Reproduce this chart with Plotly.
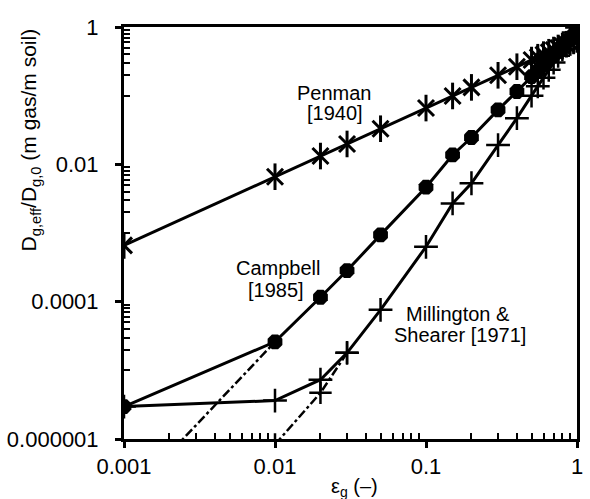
import plotly.graph_objects as go

# ---- data ----
eps = [0.001, 0.01, 0.02, 0.03, 0.05, 0.1, 0.15, 0.2, 0.3, 0.4,
       0.5, 0.55, 0.6, 0.65, 0.7, 0.75, 0.8, 0.85, 0.9, 0.95, 1.0]

penman = [0.00066, 0.0066, 0.0132, 0.0198, 0.033, 0.066, 0.099, 0.132, 0.198, 0.264,
          0.33, 0.363, 0.396, 0.429, 0.462, 0.495, 0.528, 0.561, 0.594, 0.627, 0.66]

campbell = [2.97e-6, 2.6e-5, 1.16e-4, 2.84e-4, 9.4e-4, 4.64e-3, 0.0137, 0.0246, 0.062, 0.115,
            0.19, 0.23, 0.28, 0.335, 0.39, 0.46, 0.53, 0.60, 0.69, 0.77, 0.86]

millington = [2.97e-6, 3.63e-6, 7.3e-6, 1.8e-5, 7.6e-5, 6.3e-4, 2.7e-3, 5.3e-3, 0.0191, 0.047,
              0.10, 0.137, 0.183, 0.238, 0.303, 0.381, 0.472, 0.576, 0.696, 0.832, 0.985]

campbell_dash_x = [0.001, 0.01]
campbell_dash_y = [1.24e-7, 2.6e-5]

millington_dash_x = [0.01, 0.02, 0.03]
millington_dash_y = [8.3e-7, 4.7e-6, 1.8e-5]

x_tickvals = [0.001, 0.01, 0.1, 1]
x_ticktext = ["0.001", "0.01", "0.1", "1"]
y_tickvals = [1e-6, 1e-4, 1e-2, 1]
y_ticktext = ["0.000001", "0.0001", "0.01", "1"]

x_minor = [d * k for d in [0.001, 0.01, 0.1] for k in range(2, 10)]
y_minor = [d * k for d in [1e-6, 1e-4, 1e-2] for k in range(10, 100, 10)]

FONT = "Liberation Sans, Arial, Helvetica, sans-serif"
BLACK = "#000000"

fig = go.Figure()

# dashed extensions
fig.add_trace(go.Scatter(x=campbell_dash_x, y=campbell_dash_y, mode="lines",
                         line=dict(color=BLACK, width=2.5, dash="dashdot"),
                         showlegend=False))
fig.add_trace(go.Scatter(x=millington_dash_x, y=millington_dash_y, mode="lines+markers",
                         line=dict(color=BLACK, width=2.5, dash="dashdot"),
                         marker=dict(symbol="cross-thin-open", size=16, color=BLACK,
                                     line=dict(color=BLACK, width=2.5)),
                         showlegend=False))

# Penman (asterisk = x + vertical bar)
fig.add_trace(go.Scatter(x=eps, y=penman, mode="lines+markers",
                         line=dict(color=BLACK, width=3),
                         marker=dict(symbol="x-thin-open", size=16, color=BLACK,
                                     line=dict(color=BLACK, width=3)),
                         showlegend=False))
fig.add_trace(go.Scatter(x=eps, y=penman, mode="markers",
                         marker=dict(symbol="line-ns-open", size=19, color=BLACK,
                                     line=dict(color=BLACK, width=3)),
                         showlegend=False))

# Campbell
fig.add_trace(go.Scatter(x=eps, y=campbell, mode="lines+markers",
                         line=dict(color=BLACK, width=3),
                         marker=dict(symbol="octagon", size=16, color=BLACK),
                         showlegend=False))

# Millington & Shearer
fig.add_trace(go.Scatter(x=eps, y=millington, mode="lines+markers",
                         line=dict(color=BLACK, width=3),
                         marker=dict(symbol="cross-thin-open", size=17, color=BLACK,
                                     line=dict(color=BLACK, width=2.5)),
                         showlegend=False))

W, H = 590, 499
L, R, T, B = 123, 7, 27, 60
PW, PH = W - L - R, H - T - B


def px(xp, yp):
    return (xp - L) / PW, (H - B - yp) / PH


annotations = []
for text, (xp, yp), size in [
    ("Penman", (337, 93), 20), ("[1940]", (337, 113), 20),
    ("Campbell", (279, 268), 20), ("[1985]", (277, 290), 20),
    ("Millington &", (462, 314), 20), ("Shearer [1971]", (464, 335), 20),
]:
    ax, ay = px(xp, yp)
    annotations.append(dict(x=ax, y=ay, xref="paper", yref="paper", text=text,
                            showarrow=False, xanchor="center", yanchor="middle",
                            font=dict(family=FONT, size=size, color=BLACK)))

ax, ay = px(28, 140)
annotations.append(dict(x=ax, y=ay, xref="paper", yref="paper",
                        text="D<sub>g,eff</sub>/D<sub>g,0</sub> (m gas/m soil)",
                        textangle=-90, showarrow=False, xanchor="center", yanchor="middle",
                        font=dict(family=FONT, size=21, color=BLACK)))
ax, ay = px(357, 487)
annotations.append(dict(x=ax, y=ay, xref="paper", yref="paper",
                        text="ε<sub>g</sub> (–)",
                        showarrow=False, xanchor="center", yanchor="middle",
                        font=dict(family=FONT, size=20, color=BLACK)))

axis_common = dict(type="log", showgrid=False, zeroline=False,
                   showline=True, linecolor=BLACK, linewidth=3, mirror=True,
                   ticks="outside", ticklen=6, tickwidth=2.5, tickcolor=BLACK,
                   tickfont=dict(family=FONT, size=22, color=BLACK))

fig.update_layout(
    width=W, height=H,
    margin=dict(l=L, r=R, t=T, b=B),
    paper_bgcolor="white", plot_bgcolor="white",
    xaxis=dict(axis_common, range=[-3, 0], tickmode="array",
               tickvals=x_tickvals, ticktext=x_ticktext,
               minor=dict(tickmode="array", tickvals=x_minor, ticks="inside",
                          ticklen=6, tickwidth=2, tickcolor=BLACK)),
    yaxis=dict(axis_common, range=[-6, 0], tickmode="array",
               tickvals=y_tickvals, ticktext=y_ticktext, ticklabelstandoff=12,
               minor=dict(tickmode="array", tickvals=y_minor, ticks="inside",
                          ticklen=6, tickwidth=2, tickcolor=BLACK)),
    annotations=annotations,
    showlegend=False,
)

fig.write_html("out.html", config={"displayModeBar": False},
               post_script="document.body.style.margin='0';document.body.style.overflow='hidden';")
